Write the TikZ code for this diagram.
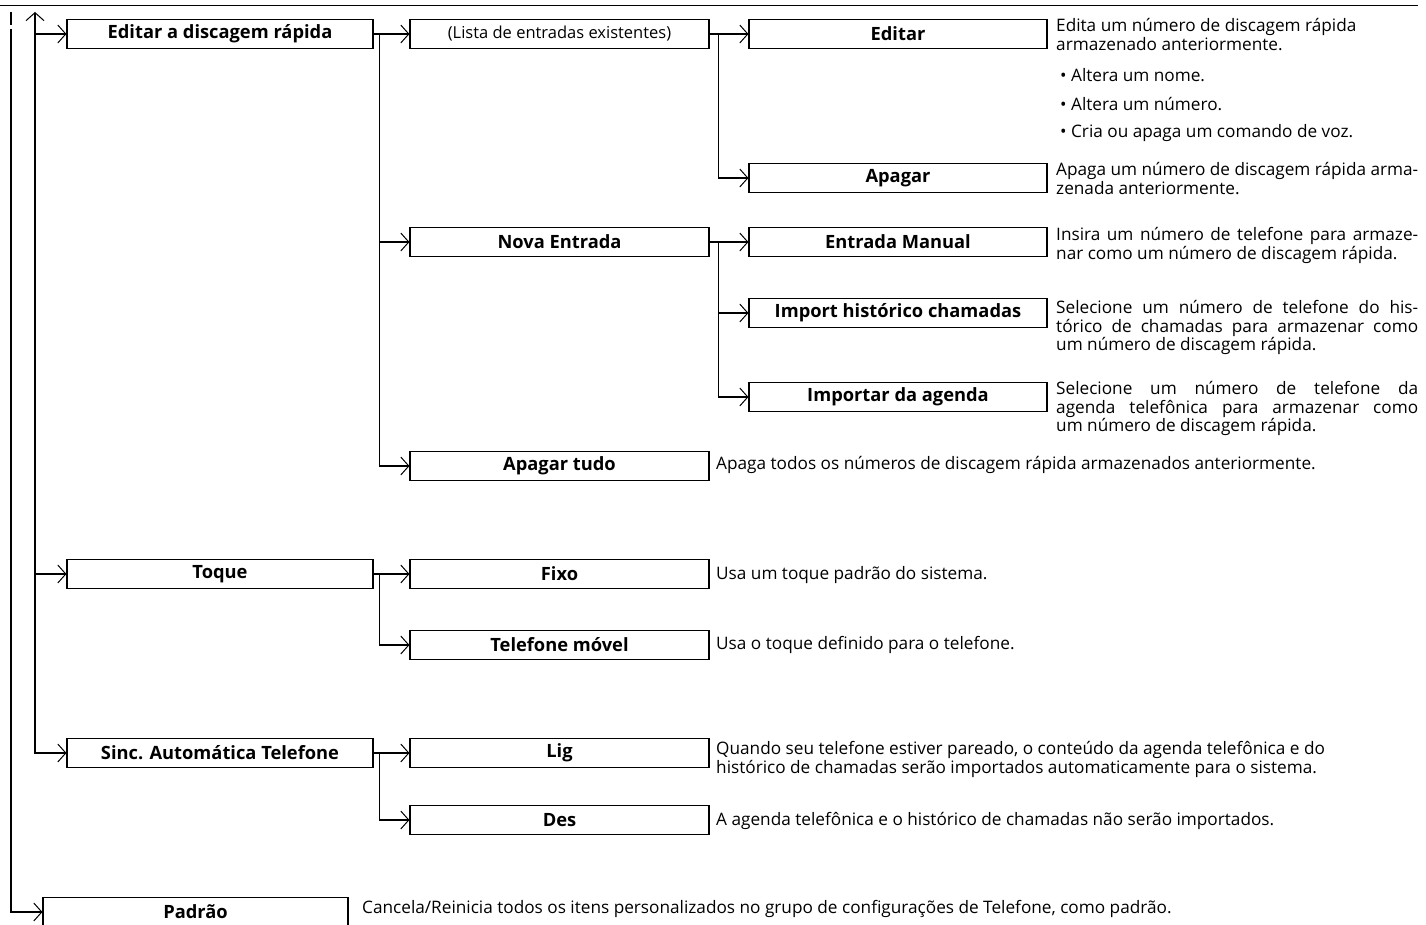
\documentclass[tikz,border=0pt]{standalone}
\usepackage{fontspec}
\usepackage{graphicx}
\setmainfont{Open Sans}
\usetikzlibrary{arrows.meta,calc}
\newcommand\dfs{\fontsize{17.2}{18}\selectfont}
\newcommand\lfs{\fontsize{16.5}{18}\selectfont}
\newcommand\bfs{\fontsize{18.3}{18}\selectfont\bfseries}
\newsavebox\jlbox
\newcommand\jl[1]{\sbox\jlbox{#1}\ifdim\wd\jlbox>362pt\resizebox{362pt}{\height}{#1}\else\makebox[362pt][s]{#1}\fi}
\begin{document}
\begin{tikzpicture}[x=1pt,y=-1pt,
  box/.style={draw, line width=1.1pt, minimum height=29pt, inner sep=0pt, font=\bfs},
  boxA/.style={box, minimum width=306pt},
  boxB/.style={box, minimum width=299pt},
  boxC/.style={box, minimum width=298pt},
  desc/.style={anchor=north west, inner sep=0pt, align=left, font=\dfs},
  conn/.style={line width=1.5pt},
  tip/.tip={Straight Barb[length=8pt,width=18pt,line width=1pt]},
  arr/.style={conn, -tip}]
\useasboundingbox (0,0) rectangle (1426,925);
% top rule
\coordinate (rl) at (0,6);
\coordinate (rr) at (1418,6);
\draw[line width=1pt] (rl) -- (rr);

% boxes
\node[boxA] (eds) at (220,34) {Editar a discagem rápida};
\node[boxB, font=\lfs] (lista) at (559.5,34) {(Lista de entradas existentes)};
\node[boxC] (editar) at (898,34) {Editar};
\node[boxC] (apagar) at (898,178) {Apagar};
\node[boxB] (nova) at (559.5,242) {Nova Entrada};
\node[boxC] (manual) at (898,242) {Entrada Manual};
\node[boxC] (import) at (898,313) {Import histórico chamadas};
\node[boxC] (agenda) at (898,397) {Importar da agenda};
\node[boxB] (tudo) at (559.5,466) {Apagar tudo};
\node[boxA] (toque) at (220,574) {Toque};
\node[boxB] (fixo) at (559.5,574) {Fixo};
\node[boxB] (movel) at (559.5,645) {Telefone móvel};
\node[boxA] (sinc) at (220,753) {Sinc. Automática Telefone};
\node[boxB] (lig) at (559.5,753) {Lig};
\node[boxB] (des) at (559.5,820) {Des};
\node[box, minimum width=305pt] (padrao) at (195.5,912) {Padrão};

% left trunks
\coordinate (ta) at (35,12);
\coordinate (tb) at (11,29);
\coordinate (fa) at (11,12);
\coordinate (fb) at (11,25);
\draw[conn] (fa) -- (fb);
\draw[conn, tip-tip] (ta) |- (sinc.west);
\draw[arr] (ta |- eds.west) -- (eds.west);
\draw[arr] (ta |- toque.west) -- (toque.west);
\draw[arr] (tb) |- (padrao.west);

% level 1 -> 2
\draw[arr] (eds.east) -- (lista.west);
\draw[arr] ($(eds.east)+(6,0)$) |- (nova.west);
\draw[arr] ($(eds.east)+(6,0)$) |- (tudo.west);
\draw[arr] (toque.east) -- (fixo.west);
\draw[arr] ($(toque.east)+(6,0)$) |- (movel.west);
\draw[arr] (sinc.east) -- (lig.west);
\draw[arr] ($(sinc.east)+(6,0)$) |- (des.west);

% level 2 -> 3
\draw[arr] (lista.east) -- (editar.west);
\draw[arr] ($(lista.east)+(9,0)$) |- (apagar.west);
\draw[arr] (nova.east) -- (manual.west);
\draw[arr] ($(nova.east)+(9,0)$) |- (import.west);
\draw[arr] ($(nova.east)+(9,0)$) |- (agenda.west);

% descriptions
\node[desc] (d1) at (1056,18) {\strut Edita um número de discagem rápida\\armazenado anteriormente.\\[13pt]
\hspace*{4pt}• Altera um nome.\\[11pt]
\hspace*{4pt}• Altera um número.\\[9pt]
\hspace*{4pt}• Cria ou apaga um comando de voz.};
\node[desc] (d2) at (1056,162) {\strut\jl{Apaga um número de discagem rápida arma-}\\zenada anteriormente.};
\node[desc] (d3) at (1056,227) {\strut\jl{Insira um número de telefone para armaze-}\\nar como um número de discagem rápida.};
\node[desc] (d4) at (1056,300) {\strut\jl{Selecione um número de telefone do his-}\\\jl{tórico de chamadas para armazenar como}\\um número de discagem rápida.};
\node[desc] (d5) at (1056,381) {\strut\jl{Selecione um número de telefone da}\\\jl{agenda telefônica para armazenar como}\\um número de discagem rápida.};
\node[desc] (d6) at (716,456) {\strut Apaga todos os números de discagem rápida armazenados anteriormente.};
\node[desc] (d7) at (716,566) {\strut Usa um toque padrão do sistema.};
\node[desc] (d8) at (716,636) {\strut Usa o toque definido para o telefone.};
\node[desc] (d9) at (716,741) {\strut Quando seu telefone estiver pareado, o conteúdo da agenda telefônica e do\\histórico de chamadas serão importados automaticamente para o sistema.};
\node[desc] (d10) at (716,812) {\strut A agenda telefônica e o histórico de chamadas não serão importados.};
\node[desc] (d11) at (362,900) {\strut Cancela/Reinicia todos os itens personalizados no grupo de configurações de Telefone, como padrão.};
\end{tikzpicture}
\end{document}
